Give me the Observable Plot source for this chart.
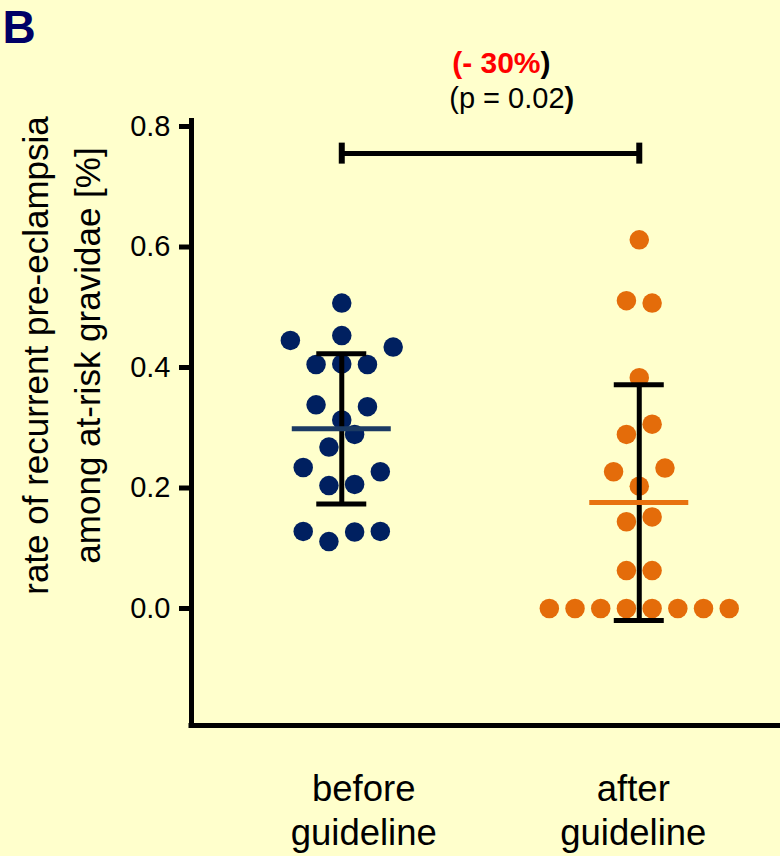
<!DOCTYPE html>
<html>
<head>
<meta charset="utf-8">
<script src="https://cdn.jsdelivr.net/npm/d3@7"></script>
<script src="https://cdn.jsdelivr.net/npm/@observablehq/plot@0.6"></script>
<style>
  html, body { margin: 0; padding: 0; background: #ffffcc; }
  #chart { width: 780px; height: 856px; }
</style>
</head>
<body>
<div id="chart"></div>
<script>
// ---- data -------------------------------------------------------------
const categories = ["before\nguideline", "after\nguideline"];
// per-cohort rates, listed row by row from high to low, left to right within a row
const beforeRates = [0.507, 0.445, 0.453, 0.434, 0.405, 0.406, 0.405, 0.338, 0.313, 0.335,
                     0.268, 0.289, 0.234, 0.204, 0.206, 0.227, 0.128, 0.111, 0.127, 0.128];
const afterRates = [0.612, 0.511, 0.507, 0.383, 0.289, 0.306, 0.227, 0.203, 0.233, 0.144,
                    0.152, 0.063, 0.063, 0, 0, 0, 0, 0, 0, 0, 0];
const yTicks = [0, 0.2, 0.4, 0.6, 0.8];
const panelLetter = "B";
const yTitle = "rate of recurrent pre-eclampsia\namong at-risk gravidae [%]";
const changeLabel = "(- 30%";
const pLabel = "(p = 0.02";
const closeParen = ")";

// ---- layout -------------------------------------------------------------
const W = 780, H = 856;
const M = {top: 118, right: 0, bottom: 131, left: 191};
const xDomain = [-0.5051, 1.4747];
const yDomain = [-0.1942, 0.8133];
const kx = (W - M.left - M.right) / (xDomain[1] - xDomain[0]);
const ky = (H - M.top - M.bottom) / (yDomain[1] - yDomain[0]);

const dotColors = ["#002060", "#e46c0a"];
const meanColors = ["#1b3a63", "#e8720f"];
const labelShift = [22, -6]; // horizontal nudge of each category label, px
const font = "'Liberation Sans', Arial, Helvetica, sans-serif";

// Scatter layout: values are grouped into horizontal rows (bins of the value
// axis); each row is spread symmetrically around the category centre, and the
// spacing of a row is widened while it would overlap dots already placed.
function swarm(values, {binWidth = 0.06, binOrigin = 0.01, step = 25.7, minDist = 18} = {}) {
  const items = values.map((v, i) => ({v, i}));
  const bins = d3.group(items, d => Math.floor((d.v - binOrigin) / binWidth));
  const keys = [...bins.keys()].sort((a, b) => a - b);
  const placed = [];
  const offsets = new Array(values.length);
  for (const k of keys) {
    const row = bins.get(k);
    const ox = (j, s) => (j - (row.length - 1) / 2) * step * s;
    const collides = s => row.some((d, j) =>
      placed.some(p => Math.hypot(p.ox - ox(j, s), (p.v - d.v) * ky) < minDist));
    let spread = 1;
    while (collides(spread)) spread++;
    row.forEach((d, j) => {
      const o = ox(j, spread);
      offsets[d.i] = o;
      placed.push({ox: o, v: d.v});
    });
  }
  return offsets.map(o => o / kx); // pixels -> x units
}

const groups = [beforeRates, afterRates];
const points = groups.flatMap((vals, g) => {
  const off = swarm(vals);
  return vals.map((v, i) => ({g, value: v, x: g + off[i]}));
});
const stats = groups.map((vals, i) => ({i, mean: d3.mean(vals), sd: d3.deviation(vals)}));

const capHalf = 25 / kx;     // half width of error-bar caps
const meanHalf = 49.5 / kx;  // half width of mean lines
const bracketLevel = 0.755;
const bracketCap = 10.5 / ky;

const marks = [];

// dots
groups.forEach((_, g) => {
  marks.push(Plot.dot(points.filter(p => p.g === g), {
    x: "x", y: "value", r: 9.75, fill: dotColors[g], stroke: "none"
  }));
});

// mean ± SD error bars and mean lines
stats.forEach(s => {
  marks.push(Plot.ruleX([s], {x: "i", y1: d => d.mean - d.sd, y2: d => d.mean + d.sd,
    stroke: "black", strokeWidth: 5}));
  marks.push(Plot.ruleY([s.mean - s.sd, s.mean + s.sd], {x1: s.i - capHalf, x2: s.i + capHalf,
    stroke: "black", strokeWidth: 5}));
  marks.push(Plot.ruleY([s.mean], {x1: s.i - meanHalf, x2: s.i + meanHalf,
    stroke: meanColors[s.i], strokeWidth: 5}));
});

// significance bracket
marks.push(Plot.ruleY([bracketLevel], {x1: 0, x2: 1, stroke: "black", strokeWidth: 5}));
marks.push(Plot.ruleX([0, 1], {y1: bracketLevel - bracketCap, y2: bracketLevel + bracketCap,
  stroke: "black", strokeWidth: 6}));

// bracket annotation
const mid = [{x: 0.5}];
marks.push(Plot.text(mid, {x: "x", text: () => changeLabel, frameAnchor: "top", textAnchor: "end",
  lineAnchor: "top", dx: 50, dy: -67.3, fontSize: 30, fontWeight: "bold", fill: "#ff0000"}));
marks.push(Plot.text(mid, {x: "x", text: () => closeParen, frameAnchor: "top", textAnchor: "start",
  lineAnchor: "top", dx: 50, dy: -67.3, fontSize: 30, fontWeight: "bold", fill: "black"}));
marks.push(Plot.text(mid, {x: "x", text: () => pLabel, frameAnchor: "top", textAnchor: "end",
  lineAnchor: "top", dx: 74, dy: -30.6, fontSize: 29, fill: "black"}));
marks.push(Plot.text(mid, {x: "x", text: () => closeParen, frameAnchor: "top", textAnchor: "start",
  lineAnchor: "top", dx: 74, dy: -30.6, fontSize: 29, fontWeight: "bold", fill: "black"}));

// axes
marks.push(Plot.ruleY([yDomain[0]], {x1: xDomain[0], x2: xDomain[1], stroke: "black",
  strokeWidth: 5, strokeLinecap: "square"}));
marks.push(Plot.ruleX([xDomain[0]], {stroke: "black", strokeWidth: 5}));
marks.push(Plot.axisY({ticks: yTicks, tickSize: 12, tickPadding: 9, tickFormat: d3.format(".1f"),
  fontSize: 29, strokeWidth: 5, stroke: "black", fill: "black", label: null}));
categories.forEach((c, i) => {
  marks.push(Plot.text([c], {x: () => i, text: d => d, frameAnchor: "bottom",
    lineAnchor: "top", lineHeight: 1.194, dx: labelShift[i], dy: 44.5, fontSize: 36.5, fill: "black"}));
});

// axis title and panel letter
marks.push(Plot.text([yTitle], {text: d => d, frameAnchor: "left", rotate: -90, textAnchor: "middle",
  lineHeight: 1.48, dx: -133.7, dy: -66.5, fontSize: 35, fill: "black"}));
marks.push(Plot.text([panelLetter], {text: d => d, frameAnchor: "top-left", textAnchor: "start",
  lineAnchor: "top", dx: -189, dy: -107.7, fontSize: 46, fontWeight: "bold", fill: "#000066"}));

const chart = Plot.plot({
  width: W,
  height: H,
  marginTop: M.top,
  marginRight: M.right,
  marginBottom: M.bottom,
  marginLeft: M.left,
  x: {type: "linear", domain: xDomain, axis: null},
  y: {type: "linear", domain: yDomain, axis: null},
  style: {background: "#ffffcc", fontFamily: font, color: "black", overflow: "visible"},
  marks
});
document.getElementById("chart").appendChild(chart);
</script>
</body>
</html>
